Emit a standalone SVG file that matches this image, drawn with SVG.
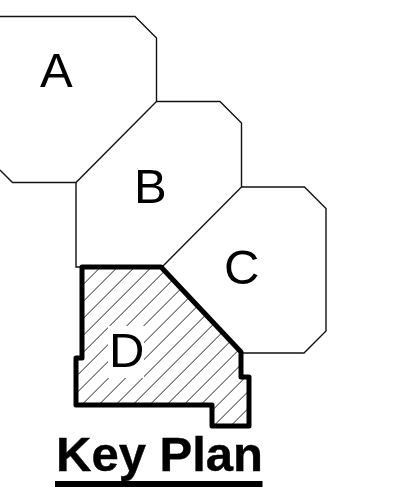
<svg xmlns="http://www.w3.org/2000/svg" width="403" height="489" viewBox="0 0 403 489">
<style>
.outline{fill:none;stroke:#111;stroke-width:1.4}
.lbl{font-family:"Liberation Sans",Arial,sans-serif;font-size:49px;fill:#000}
.title{font-weight:bold;stroke:#000;stroke-width:.4}
.heavy{fill:url(#hatch);stroke:#000;stroke-width:5;stroke-linejoin:round}
</style>
<defs>
<pattern id="hatch" patternUnits="userSpaceOnUse" x="10.6" y="0" width="17" height="17">
<path d="M-1 18L18 -1" stroke="#222" stroke-width="1" fill="none"/>
</pattern>
</defs>
<rect width="403" height="489" fill="#fff"/>
<g id="connectors"/>
<g id="node-a">
<path class="outline" d="M0 16.500H135L156.500 38V101.500L76 182.500H12.500L0 170"/>
<text class="lbl" x="40" y="87">A</text>
</g>
<g id="node-b">
<path class="outline" d="M156.500 101.500H220L241.500 123V187L162 267M76 182.500V267H82"/>
<text class="lbl" x="134" y="203">B</text>
</g>
<g id="node-c">
<path class="outline" d="M241.500 187H304.500L326 208.500V331L304 353H241"/>
<text class="lbl" x="224" y="284">C</text>
</g>
<g id="node-d">
<path class="heavy" d="M82 267H161L241 352V377H249V426H212V405H76V358H82Z"/>
<rect x="108" y="326" width="36" height="52" fill="#fff"/>
<text class="lbl" x="109" y="367">D</text>
</g>
<g id="title">
<text class="lbl title" x="56" y="471">Key Plan</text>
<rect x="55" y="481" width="207.500" height="6" fill="#000"/>
</g>
</svg>
